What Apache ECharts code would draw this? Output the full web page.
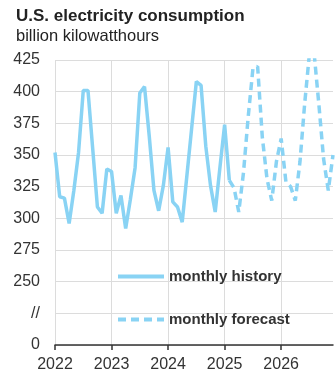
<!DOCTYPE html>
<html>
<head>
<meta charset="utf-8">
<script src="https://cdn.jsdelivr.net/npm/echarts@6/dist/echarts.min.js"></script>
<style>
  html, body { margin: 0; padding: 0; background: #fff; }
  #chart { width: 335px; height: 375px; }
</style>
</head>
<body>
<div id="chart"></div>
<script>
// Months Jan 2022 .. Dec 2026
var years = [2022, 2023, 2024, 2025, 2026];
var months = [];
years.forEach(function (y) { for (var m = 1; m <= 12; m++) months.push(y + '-' + (m < 10 ? '0' + m : m)); });

// monthly history (Jan 2022 - Feb 2025), billion kWh
var historyValues = [
  352, 317, 316, 296, 322, 352, 401, 401, 355, 309, 304, 339,
  337, 304, 318, 292, 315, 340, 399, 404, 365, 322, 306, 326,
  356, 313, 309, 297, 334, 371, 408, 405, 357, 326, 305, 340,
  374, 330
];
// monthly forecast (Feb 2025 - Dec 2026)
var forecastStartIndex = 37;
var forecastValues = [
  330, 324, 305, 336, 380, 418, 420, 364, 331, 314, 345,
  363, 329, 325, 314, 345, 391, 430, 430, 390, 347, 322, 350
];
// y tick labels (broken axis: bottom two ticks show "0" and "//")
var yTickLabels = { 200: '0', 225: '//' };

var historyData = months.map(function (m, i) { return i < historyValues.length ? historyValues[i] : null; });
var forecastData = months.map(function (m, i) {
  var k = i - forecastStartIndex;
  return (k >= 0 && k < forecastValues.length) ? forecastValues[k] : null;
});

var FONT = 'Liberation Sans, Arial, sans-serif';
var lineColor = '#89d3f4';
var chart = echarts.init(document.getElementById('chart'), null, { renderer: 'canvas' });
chart.setOption({
  animation: false,
  title: [
    { text: 'U.S. electricity consumption', left: 16, top: 8, padding: 0,
      textStyle: { fontFamily: FONT, fontSize: 17, fontWeight: 'bold', color: '#222' } },
    { text: 'billion kilowatthours', left: 16, top: 28, padding: 0,
      textStyle: { fontFamily: FONT, fontSize: 16.5, fontWeight: 'normal', color: '#222' } }
  ],
  grid: { left: 55, right: 2, top: 60, bottom: 30, containLabel: false },
  legend: {
    orient: 'vertical', left: 116, top: 269, padding: 0, itemWidth: 46, itemHeight: 14, itemGap: 28,
    itemStyle: { opacity: 0 },
    lineStyle: { width: 4 },
    textStyle: { fontFamily: FONT, fontSize: 15, fontWeight: 'bold', color: '#333' },
    data: ['monthly history', 'monthly forecast']
  },
  xAxis: {
    type: 'category', data: months, boundaryGap: false,
    axisLine: { lineStyle: { color: '#333', width: 1.5 } },
    axisTick: { show: true, interval: 11, length: 5, lineStyle: { color: '#333', width: 1.5 } },
    axisLabel: {
      interval: 11, margin: 12, color: '#333', fontSize: 16, fontFamily: FONT,
      formatter: function (v) { return v.slice(0, 4); }
    },
    splitLine: { show: true, interval: 11, lineStyle: { color: '#dcdcdc', width: 1 } }
  },
  yAxis: {
    type: 'value', min: 200, max: 425, interval: 25,
    axisLine: { show: false }, axisTick: { show: false },
    axisLabel: {
      margin: 15, color: '#333', fontSize: 16, fontFamily: FONT,
      formatter: function (v) { return yTickLabels[v] !== undefined ? yTickLabels[v] : String(v); }
    },
    splitLine: { lineStyle: { color: '#dcdcdc', width: 1 } }
  },
  series: [
    { name: 'monthly history', type: 'line', data: historyData, symbol: 'none', clip: true,
      lineStyle: { color: lineColor, width: 3.5 }, itemStyle: { color: lineColor } },
    { name: 'monthly forecast', type: 'line', data: forecastData, symbol: 'none', clip: true,
      lineStyle: { color: lineColor, width: 3.5, type: [8, 5] }, itemStyle: { color: lineColor } }
  ]
});
</script>
</body>
</html>
